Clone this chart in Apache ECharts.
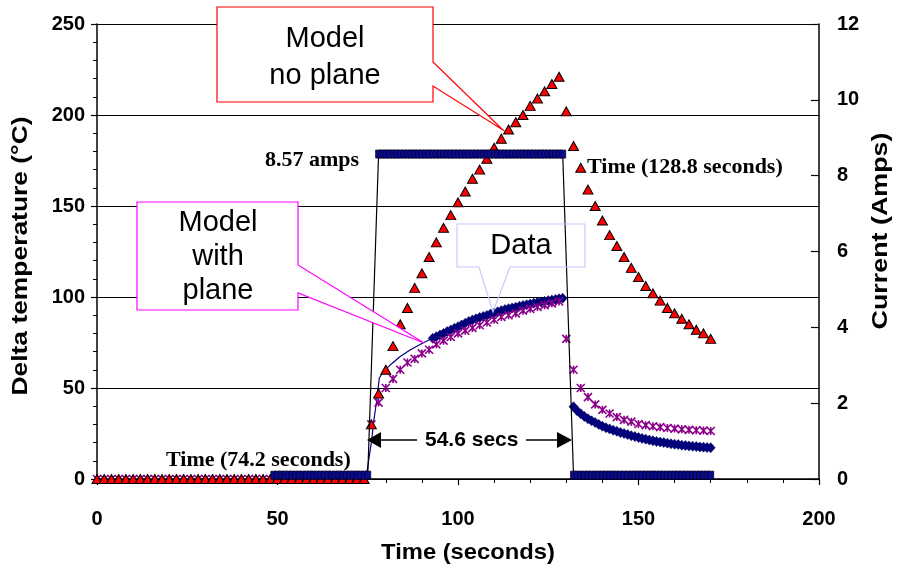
<!DOCTYPE html>
<html>
<head>
<meta charset="utf-8">
<script src="https://cdn.jsdelivr.net/npm/echarts@6/dist/echarts.min.js"></script>
<style>
html,body{margin:0;padding:0;background:#fff;}
#chart{width:898px;height:572px;}
</style>
</head>
<body>
<div id="chart"></div>
<script>
// ---------- data ----------
const xTicks = [0, 50, 100, 150, 200];
const leftTicks = [0, 50, 100, 150, 200, 250];
const rightTicks = [0, 2, 4, 6, 8, 10, 12];

// Model (triangles and asterisks) sampled every 2 s
const modelTimes = [0,2,4,6,8,10,12,14,16,18,20,22,24,26,28,30,32,34,36,38,40,42,44,46,48,50,52,54,56,58,60,62,64,66,68,70,72,74,
  76,78,80,82,84,86,88,90,92,94,96,98,100,102,104,106,108,110,112,114,116,118,120,122,124,126,128,
  130,132,134,136,138,140,142,144,146,148,150,152,154,156,158,160,162,164,166,168,170];
const modelNoPlane = [0,0,0,0,0,0,0,0,0,0,0,0,0,0,0,0,0,0,0,0,0,0,0,0,0,0,0,0,0,0,0,0,0,0,0,0,0,0,
  30,47,60,73,85,94,105,113,122,130,138,145,152,158,165,170,176,182,187,192,196,200,205,209,213,217,221,
  202,183,171,159,150,142,134,128,122,116,111,106,102,98,94,91,88,85,82,80,77];
const modelWithPlane = [0,0,0,0,0,0,0,0,0,0,0,0,0,0,0,0,0,0,0,0,0,0,0,0,0,0,0,0,0,0,0,0,0,0,0,0,0,0,
  30,42,50,55,60,64,66,69,71,74,76,78,80,81.5,83,84.5,86,87.5,89,90,91,92.5,93.5,94.5,95.5,96.5,97.5,
  77,60,50,45,41,38,36,34,32.5,31.5,30.2,29.6,29,28.5,28,27.7,27.3,27,26.8,26.6,26.4];

// Measured data: early rise drawn as a thin line
const dataLineTimes = [74.5,75.4,76.1,76.7,77.5,78.2,79.3,81.2,83.9,86.7,90.4,93];
const dataLineValues = [0,12.3,21.4,32.4,43.4,55.5,59,62.6,67.2,70.9,74.9,77.3];
// Measured data: dense diamond markers
const dataTimes = [93,94,95,96,97,98,99,100,101,102,103,104,105,106,107,108,109,110,111,112,113,114,115,116,117,118,119,120,121,122,123,124,125,126,127,128,129,
  132,133,134,135,136,137,138,139,140,141,142,143,144,145,146,147,148,149,150,151,152,153,154,155,156,157,158,159,160,161,162,163,164,165,166,167,168,169,170];
const dataValues = [77.3,78.2,79.1,80.0,81.0,81.9,82.8,83.7,84.6,85.6,86.6,87.4,88.0,88.7,89.3,89.9,90.6,91.2,91.9,92.5,93.1,93.6,94.0,94.4,94.9,95.3,95.7,96.1,96.6,97.0,97.3,97.6,98.0,98.3,98.6,99.0,99.3,
  39.7,37.5,35.8,34.4,33.1,32.0,31.0,30.0,29.0,28.2,27.5,26.8,26.2,25.5,25.0,24.4,23.8,23.3,22.8,22.3,21.9,21.4,21.0,20.6,20.3,20.0,19.7,19.4,19.1,18.9,18.6,18.4,18.2,18.0,17.8,17.6,17.5,17.3,17.2];

// Current (right axis, Amps)
const currentTimes = [49,50,51,52,53,54,55,56,57,58,59,60,61,62,63,64,65,66,67,68,69,70,71,72,73,74,75,
  78,79,80,81,82,83,84,85,86,87,88,89,90,91,92,93,94,95,96,97,98,99,100,101,102,103,104,105,106,107,108,109,110,111,112,113,114,115,116,117,118,119,120,121,122,123,124,125,126,127,128,129,
  132,133,134,135,136,137,138,139,140,141,142,143,144,145,146,147,148,149,150,151,152,153,154,155,156,157,158,159,160,161,162,163,164,165,166,167,168,169,170];
const currentAmps = [0.1,0.1,0.1,0.1,0.1,0.1,0.1,0.1,0.1,0.1,0.1,0.1,0.1,0.1,0.1,0.1,0.1,0.1,0.1,0.1,0.1,0.1,0.1,0.1,0.1,0.1,0.1,
  8.57,8.57,8.57,8.57,8.57,8.57,8.57,8.57,8.57,8.57,8.57,8.57,8.57,8.57,8.57,8.57,8.57,8.57,8.57,8.57,8.57,8.57,8.57,8.57,8.57,8.57,8.57,8.57,8.57,8.57,8.57,8.57,8.57,8.57,8.57,8.57,8.57,8.57,8.57,8.57,8.57,8.57,8.57,8.57,8.57,8.57,8.57,8.57,8.57,8.57,8.57,8.57,
  0.1,0.1,0.1,0.1,0.1,0.1,0.1,0.1,0.1,0.1,0.1,0.1,0.1,0.1,0.1,0.1,0.1,0.1,0.1,0.1,0.1,0.1,0.1,0.1,0.1,0.1,0.1,0.1,0.1,0.1,0.1,0.1,0.1,0.1,0.1,0.1,0.1,0.1,0.1];

// ---------- chart ----------
const zip = (a, b) => a.map((v, i) => [v, b[i]]);
const SANS = 'Liberation Sans, Arial, sans-serif';
const SERIF = 'Liberation Serif, Times New Roman, serif';
const chart = echarts.init(document.getElementById('chart'), null, {renderer: 'canvas'});

const option = {
  animation: false,
  backgroundColor: '#ffffff',
  grid: {left: 97, right: 79, top: 24, bottom: 93, containLabel: false},
  xAxis: {
    type: 'value', min: xTicks[0], max: xTicks[xTicks.length - 1], interval: 50,
    axisLine: {show: true, onZero: false, lineStyle: {color: '#000', width: 1.5}},
    axisTick: {show: true, inside: false, length: 6, lineStyle: {color: '#000', width: 1.2}},
    minorTick: {show: true, splitNumber: 5, length: 4, lineStyle: {color: '#000', width: 1}},
    axisLabel: {color: '#000', fontFamily: SANS, fontWeight: 'bold', fontSize: 20, margin: 30},
    splitLine: {show: false}
  },
  yAxis: [{
    type: 'value', min: leftTicks[0], max: leftTicks[leftTicks.length - 1], interval: 50,
    axisLine: {show: true, lineStyle: {color: '#000', width: 1.5}},
    axisTick: {show: true, inside: false, length: 6, lineStyle: {color: '#000', width: 1.2}},
    minorTick: {show: true, splitNumber: 5, length: 4, lineStyle: {color: '#000', width: 1}},
    axisLabel: {color: '#000', fontFamily: SANS, fontWeight: 'bold', fontSize: 20, margin: 12},
    splitLine: {show: true, lineStyle: {color: '#000', width: 1.2}}
  }, {
    type: 'value', position: 'right', min: rightTicks[0], max: rightTicks[rightTicks.length - 1], interval: 2,
    axisLine: {show: true, lineStyle: {color: '#000', width: 1.5}},
    axisTick: {show: true, inside: true, length: 8, lineStyle: {color: '#000', width: 1.2}},
    axisLabel: {color: '#000', fontFamily: SANS, fontWeight: 'bold', fontSize: 20, margin: 18},
    splitLine: {show: false}
  }],
  series: [
    {
      name: 'Data line', type: 'line', yAxisIndex: 0, data: zip(dataLineTimes, dataLineValues),
      symbol: 'none', lineStyle: {color: '#000080', width: 1.2}, z: 2
    },
    {
      name: 'Data', type: 'scatter', yAxisIndex: 0, data: zip(dataTimes, dataValues),
      symbol: 'diamond', symbolSize: [9, 10],
      itemStyle: {color: '#000080', borderColor: '#00005a', borderWidth: 0.6, opacity: 1}, z: 3
    },
    {
      name: 'Model with plane', type: 'scatter', yAxisIndex: 0, data: zip(modelTimes, modelWithPlane),
      symbol: 'path://M0,0L8,8M8,0L0,8M4,0L4,8', symbolSize: [8, 8],
      itemStyle: {color: 'rgba(0,0,0,0)', borderColor: '#8b008b', borderWidth: 1.6, opacity: 1}, z: 4
    },
    {
      name: 'Model no plane', type: 'scatter', yAxisIndex: 0, data: zip(modelTimes, modelNoPlane),
      symbol: 'triangle', symbolSize: [10, 9],
      itemStyle: {color: '#ff0000', borderColor: '#000000', borderWidth: 1, opacity: 1}, z: 5
    },
    {
      name: 'Current', type: 'line', yAxisIndex: 1, data: zip(currentTimes, currentAmps),
      symbol: 'rect', symbolSize: [6, 8], showAllSymbol: true,
      lineStyle: {color: '#000', width: 1.2},
      itemStyle: {color: '#0a0a8c', borderColor: '#000022', borderWidth: 0.7}, z: 6
    }
  ],
  graphic: {elements: [
    // axis titles
    {type: 'text', x: 468, y: 553, scaleX: 1.08, z: 10,
      style: {text: 'Time (seconds)', font: 'bold 22px ' + SANS, fill: '#000', textAlign: 'center', textVerticalAlign: 'middle'}},
    {type: 'text', x: 21, y: 256, rotation: Math.PI / 2, scaleX: 1.2, z: 10,
      style: {text: 'Delta temperature (°C)', font: 'bold 22px ' + SANS, fill: '#000', textAlign: 'center', textVerticalAlign: 'middle'}},
    {type: 'text', x: 881, y: 231, rotation: Math.PI / 2, scaleX: 1.22, z: 10,
      style: {text: 'Current (Amps)', font: 'bold 22px ' + SANS, fill: '#000', textAlign: 'center', textVerticalAlign: 'middle'}},
    // callout: Model no plane
    {type: 'polygon', z: 20, shape: {points: [[217,7],[433,7],[433,62],[503,130],[433,86],[433,102],[217,102]]},
      style: {fill: '#fff', stroke: '#ff0000', lineWidth: 1.2}},
    {type: 'text', x: 325, y: 57, z: 21,
      style: {text: 'Model\nno plane', font: '29px ' + SANS, lineHeight: 37, fill: '#000', textAlign: 'center', textVerticalAlign: 'middle'}},
    // callout: Model with plane
    {type: 'polygon', z: 20, shape: {points: [[137,202],[298,202],[298,265],[424,343],[298,293],[298,310],[137,310]]},
      style: {fill: '#fff', stroke: '#ff00ff', lineWidth: 1.2}},
    {type: 'text', x: 218, y: 257, z: 21,
      style: {text: 'Model\nwith\nplane', font: '29px ' + SANS, lineHeight: 34, fill: '#000', textAlign: 'center', textVerticalAlign: 'middle'}},
    // callout: Data
    {type: 'polygon', z: 20, shape: {points: [[457,224],[585,224],[585,267],[510,267],[493,312],[479,267],[457,267]]},
      style: {fill: 'none', stroke: '#c8c8ff', lineWidth: 1.2}},
    {type: 'text', x: 521, y: 246, z: 21,
      style: {text: 'Data', font: '29px ' + SANS, fill: '#000', textAlign: 'center', textVerticalAlign: 'middle'}},
    // text annotations
    {type: 'text', x: 265, y: 160, z: 21,
      style: {text: '8.57 amps', font: 'bold 22px ' + SERIF, fill: '#000', textAlign: 'left', textVerticalAlign: 'middle'}},
    {type: 'text', x: 587, y: 167, z: 21,
      style: {text: 'Time (128.8 seconds)', font: 'bold 22px ' + SERIF, fill: '#000', textAlign: 'left', textVerticalAlign: 'middle'}},
    {type: 'text', x: 166, y: 460, z: 21,
      style: {text: 'Time (74.2 seconds)', font: 'bold 22px ' + SERIF, fill: '#000', textAlign: 'left', textVerticalAlign: 'middle'}},
    {type: 'text', x: 425, y: 440, z: 21,
      style: {text: '54.6 secs', font: 'bold 21px ' + SANS, fill: '#000', textAlign: 'left', textVerticalAlign: 'middle'}},
    // arrows
    {type: 'line', z: 21, shape: {x1: 417, y1: 440, x2: 378, y2: 440}, style: {stroke: '#000', lineWidth: 1.5}},
    {type: 'polygon', z: 21, shape: {points: [[367,440],[381,432],[381,448]]}, style: {fill: '#000'}},
    {type: 'line', z: 21, shape: {x1: 526, y1: 440, x2: 560, y2: 440}, style: {stroke: '#000', lineWidth: 1.5}},
    {type: 'polygon', z: 21, shape: {points: [[572,440],[557,432],[557,448]]}, style: {fill: '#000'}}
  ]}
};
chart.setOption(option);
</script>
</body>
</html>
